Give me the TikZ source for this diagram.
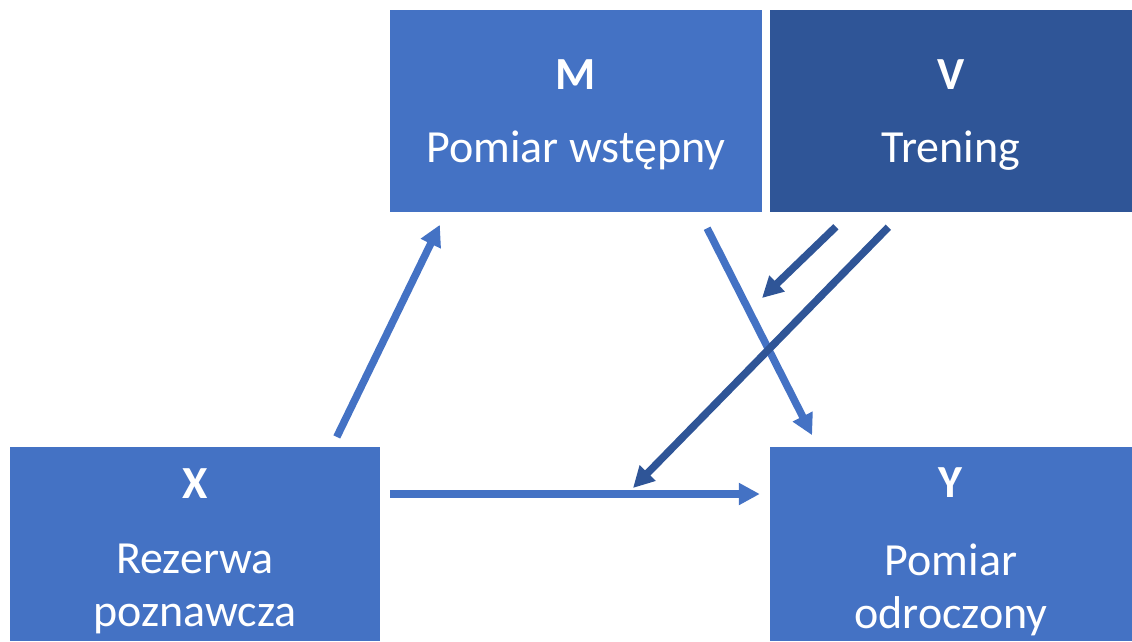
\documentclass[tikz,border=0pt]{standalone}
\usepackage{fontspec}
\setmainfont{Carlito}
\usetikzlibrary{arrows.meta}

\definecolor{bleu}{HTML}{4472C4}
\definecolor{bleufonce}{HTML}{2F5597}

\tikzset{boite/.style = {fill = #1, inner sep = 0},
         boite/.default = bleu,
         texte/.style = {text = white, align = center, inner sep = 0,
                         font = \fontsize{46}{53}\selectfont},
         fleche/.style = {line width = 7.5, draw = #1,
                          -{Triangle[length = 21pt, width = 21pt]}},
         fleche/.default = bleu
        }

\begin{document}
\begin{tikzpicture}[x = 1pt, y = -1pt]
  \useasboundingbox (0, 0) rectangle (1132, 641);
  \node[boite, minimum width = 372, minimum height = 202,
        label = {[texte, yshift = -4]center:{\textbf{M}\\[20pt]Pomiar wstępny}}] (M) at (576, 111) {};
  \node[boite = bleufonce, minimum width = 362, minimum height = 202,
        label = {[texte, yshift = -4]center:{\textbf{V}\\[20pt]Trening}}] (V) at (951, 111) {};
  \node[boite, minimum width = 370, minimum height = 194,
        label = {[texte, yshift = -7]center:{\textbf{X}\\[22pt]Rezerwa\\poznawcza}}] (X) at (195, 544) {};
  \node[boite, minimum width = 362, minimum height = 194,
        label = {[texte, yshift = -8]center:{\textbf{Y}\\[25pt]Pomiar\\odroczony}}] (Y) at (951, 544) {};
  \coordinate (m1) at (762, 298);
  \coordinate (m2) at (633, 488);
  \draw[fleche, shorten <= 11, shorten >= 14] ([xshift = 137]X.north) -- ([xshift = -130]M.south);
  \draw[fleche, shorten <= 18, shorten >= 13] ([xshift = 123]M.south) -- ([xshift = -133]Y.north);
  \draw[fleche, shorten <= 10, shorten >= 10] ([yshift = 50]X.east) -- ([yshift = 50]Y.west);
  \draw[fleche = bleufonce, shorten <= 21] ([xshift = -100]V.south) -- (m1);
  \draw[fleche = bleufonce, shorten <= 21] ([xshift = -48]V.south) -- (m2);
\end{tikzpicture}
\end{document}
